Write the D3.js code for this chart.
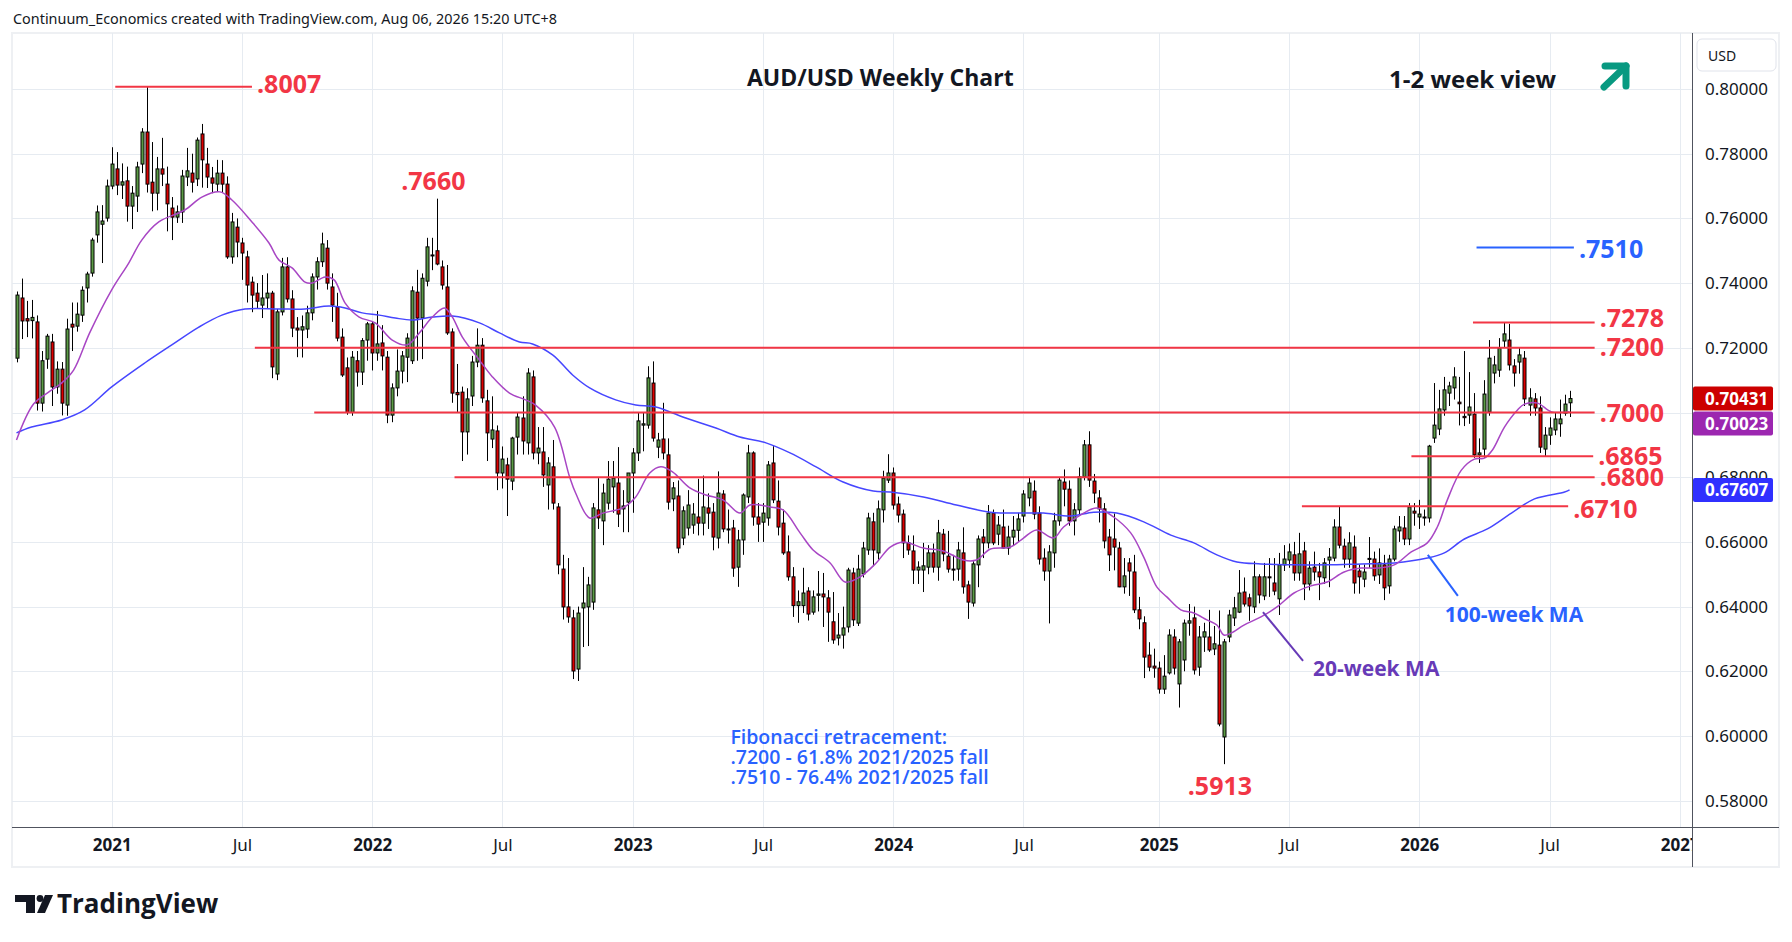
<!DOCTYPE html>
<html lang="en">
<head>
<meta charset="UTF-8">
<title>AUD/USD Weekly Chart</title>
<script src="https://d3js.org/d3.v7.min.js"></script>
<style>
  body { margin: 0; background: #fff; }
  svg { display: block; }
  text { font-family: "Open Sans", "Noto Sans", sans-serif; }
  .ui { font-family: "Noto Sans", "Open Sans", sans-serif; }
</style>
</head>
<body>
<div id="chart"></div>
<script>
// weekly bars, first bar = week of 2020-08-24
const firstWeek = "2020-08-24";

const opens = [
  .7168,.7354,.7290,.7284,.7280,.7029,.7165,.7218,.7079,.7134,
  .7023,.7273,.7267,.7301,.7385,.7431,.7549,.7582,.7601,.7700,
  .7753,.7703,.7716,.7638,.7669,.7768,.7867,.7712,.7678,.7753,
  .7706,.7632,.7604,.7620,.7728,.7740,.7722,.7861,.7768,.7725,
  .7706,.7740,.7706,.7481,.7573,.7524,.7481,.7403,.7369,.7332,
  .7354,.7369,.7119,.7311,.7450,.7351,.7261,.7255,.7258,.7308,
  .7419,.7466,.7508,.7388,.7326,.7233,.7138,.7000,.7160,.7125,
  .7224,.7274,.7184,.7215,.7171,.6992,.7076,.7128,.7171,.7160,
  .7372,.7292,.7406,.7487,.7500,.7450,.7388,.7249,.7062,.7063,
  .6940,.7051,.7156,.7208,.7036,.6918,.6943,.6813,.6838,.6788,
  .6924,.6983,.6906,.7110,.6875,.6878,.6776,.6832,.6708,.6516,
  .6399,.6365,.6207,.6396,.6399,.6414,.6699,.6665,.6720,.6770,
  .6782,.6702,.6723,.6813,.6875,.6961,.6961,.7091,.6893,.6918,
  .6869,.6733,.6742,.6612,.6643,.6652,.6677,.6658,.6705,.6692,
  .6612,.6748,.6640,.6643,.6522,.6606,.6739,.6875,.6677,.6661,
  .6674,.6844,.6726,.6658,.6569,.6492,.6403,.6403,.6448,.6383,
  .6435,.6439,.6427,.6353,.6303,.6312,.6337,.6504,.6349,.6501,
  .6575,.6662,.6566,.6699,.6791,.6813,.6717,.6686,.6597,.6572,
  .6513,.6513,.6522,.6566,.6522,.6624,.6556,.6516,.6516,.6566,
  .6467,.6411,.6529,.6615,.6597,.6689,.6624,.6646,.6581,.6615,
  .6636,.6680,.6736,.6757,.6689,.6550,.6510,.6566,.6665,.6785,
  .6763,.6665,.6699,.6801,.6900,.6788,.6736,.6702,.6615,.6609,
  .6581,.6461,.6535,.6507,.6390,.6350,.6250,.6216,.6210,.6145,
  .6195,.6306,.6161,.6235,.6349,.6365,.6213,.6306,.6306,.6269,
  .6281,.5997,.6306,.6365,.6383,.6445,.6427,.6399,.6492,.6433,
  .6492,.6473,.6424,.6529,.6544,.6560,.6504,.6572,.6470,.6522,
  .6507,.6489,.6544,.6550,.6646,.6587,.6547,.6584,.6510,.6485,
  .6549,.6547,.6498,.6529,.6464,.6547,.6634,.6643,.6609,.6695,
  .6677,.6677,.6674,.6921,.6949,.7008,.7060,.7076,.7032,.6988,
  .6992,.6995,.6869,.6887,.7002,.7122,.7131,.7221,.7224,.7144,
  .7156,.7168,.7023,.7042,.7014,.6887,.6930,.6946,.6965,.6998,
  .7030
];

const highs = [
  .7374,.7414,.7345,.7348,.7300,.7190,.7243,.7243,.7158,.7156,
  .7290,.7340,.7340,.7390,.7435,.7540,.7640,.7641,.7720,.7820,
  .7805,.7770,.7760,.7700,.7775,.7879,.8007,.7836,.7790,.7849,
  .7760,.7666,.7640,.7750,.7818,.7800,.7850,.7892,.7818,.7759,
  .7781,.7780,.7730,.7617,.7600,.7540,.7500,.7420,.7400,.7425,
  .7430,.7376,.7320,.7478,.7480,.7378,.7295,.7300,.7330,.7430,
  .7480,.7556,.7533,.7430,.7370,.7260,.7170,.7190,.7190,.7230,
  .7280,.7280,.7314,.7270,.7190,.7090,.7195,.7190,.7245,.7390,
  .7441,.7430,.7540,.7540,.7661,.7470,.7456,.7260,.7150,.7080,
  .7075,.7175,.7260,.7230,.7070,.7050,.6960,.6895,.6860,.6925,
  .7000,.7050,.7137,.7130,.6955,.6955,.6862,.6915,.6720,.6560,
  .6550,.6390,.6400,.6522,.6492,.6720,.6797,.6780,.6850,.6850,
  .6893,.6760,.6810,.6890,.7000,.7000,.7143,.7158,.6937,.7030,
  .6920,.6785,.6790,.6710,.6760,.6720,.6795,.6805,.6750,.6720,
  .6818,.6760,.6700,.6668,.6637,.6750,.6900,.6880,.6720,.6720,
  .6850,.6896,.6790,.6700,.6620,.6522,.6450,.6520,.6460,.6450,
  .6510,.6504,.6451,.6445,.6380,.6400,.6520,.6520,.6560,.6600,
  .6690,.6690,.6728,.6820,.6871,.6830,.6740,.6700,.6620,.6620,
  .6540,.6597,.6590,.6595,.6668,.6640,.6634,.6560,.6600,.6645,
  .6480,.6540,.6620,.6640,.6714,.6700,.6680,.6700,.6650,.6680,
  .6690,.6760,.6799,.6790,.6710,.6580,.6590,.6690,.6800,.6824,
  .6790,.6720,.6830,.6915,.6942,.6810,.6760,.6720,.6640,.6688,
  .6600,.6550,.6550,.6560,.6430,.6370,.6290,.6270,.6230,.6250,
  .6330,.6330,.6300,.6360,.6408,.6400,.6340,.6350,.6390,.6340,
  .6388,.6300,.6390,.6430,.6513,.6490,.6440,.6540,.6500,.6535,
  .6550,.6550,.6566,.6590,.6595,.6600,.6628,.6600,.6540,.6570,
  .6535,.6550,.6581,.6670,.6708,.6610,.6630,.6620,.6530,.6530,
  .6615,.6570,.6580,.6560,.6560,.6650,.6680,.6680,.6720,.6720,
  .6730,.6700,.6900,.7091,.7070,.7110,.7095,.7140,.7110,.7190,
  .7125,.7060,.6920,.7100,.7224,.7175,.7230,.7278,.7274,.7165,
  .7200,.7190,.7075,.7060,.7050,.6955,.6985,.7000,.7040,.7055,
  .7067
];

const lows = [
  .7155,.7227,.7233,.7229,.7006,.7003,.7135,.7020,.7058,.6991,
  .6990,.7190,.7250,.7280,.7340,.7420,.7525,.7462,.7590,.7690,
  .7672,.7660,.7590,.7567,.7620,.7740,.7680,.7622,.7625,.7700,
  .7560,.7533,.7586,.7586,.7700,.7680,.7700,.7695,.7694,.7678,
  .7682,.7680,.7475,.7460,.7480,.7410,.7340,.7310,.7320,.7292,
  .7320,.7106,.7100,.7300,.7340,.7233,.7171,.7170,.7230,.7285,
  .7380,.7450,.7380,.7280,.7220,.7110,.6993,.6990,.7080,.7085,
  .7160,.7130,.7160,.7130,.6967,.6970,.7050,.7090,.7094,.7150,
  .7160,.7165,.7390,.7440,.7455,.7380,.7240,.7030,.7000,.6850,
  .6870,.7020,.7140,.7030,.6850,.6890,.6760,.6765,.6680,.6760,
  .6870,.6870,.6870,.6855,.6840,.6770,.6700,.6700,.6500,.6360,
  .6350,.6176,.6170,.6275,.6278,.6390,.6640,.6590,.6700,.6690,
  .6646,.6630,.6630,.6690,.6850,.6880,.6950,.6910,.6859,.6855,
  .6700,.6695,.6565,.6590,.6620,.6625,.6620,.6620,.6640,.6574,
  .6580,.6630,.6595,.6492,.6461,.6560,.6720,.6650,.6600,.6600,
  .6650,.6720,.6620,.6560,.6480,.6368,.6350,.6380,.6357,.6375,
  .6385,.6337,.6291,.6285,.6280,.6270,.6320,.6340,.6340,.6490,
  .6560,.6525,.6545,.6660,.6782,.6700,.6660,.6550,.6560,.6470,
  .6470,.6445,.6500,.6505,.6480,.6540,.6505,.6480,.6480,.6440,
  .6362,.6400,.6460,.6550,.6580,.6590,.6590,.6580,.6560,.6590,
  .6600,.6660,.6710,.6670,.6530,.6480,.6348,.6520,.6650,.6710,
  .6650,.6620,.6680,.6790,.6770,.6720,.6660,.6580,.6510,.6512,
  .6460,.6440,.6433,.6380,.6330,.6179,.6200,.6180,.6131,.6130,
  .6190,.6190,.6088,.6200,.6310,.6190,.6186,.6260,.6260,.6250,
  .6030,.5913,.6290,.6340,.6380,.6400,.6356,.6380,.6410,.6420,
  .6430,.6435,.6374,.6510,.6520,.6480,.6480,.6420,.6450,.6480,
  .6420,.6470,.6460,.6540,.6580,.6520,.6520,.6440,.6440,.6460,
  .6520,.6480,.6470,.6420,.6440,.6540,.6600,.6590,.6590,.6650,
  .6640,.6650,.6660,.6906,.6930,.6990,.7020,.7040,.6960,.6958,
  .6965,.6860,.6844,.6860,.6990,.7090,.7110,.7200,.7130,.7080,
  .7120,.7020,.6990,.6990,.6875,.6865,.6900,.6930,.6925,.6990,
  .6986
];

const closes = [
  .7363,.7283,.7283,.7294,.7029,.7160,.7236,.7079,.7134,.7029,
  .7258,.7264,.7304,.7378,.7428,.7533,.7620,.7592,.7700,.7768,
  .7703,.7713,.7638,.7678,.7759,.7867,.7706,.7678,.7753,.7737,
  .7645,.7604,.7620,.7731,.7747,.7712,.7842,.7781,.7728,.7709,
  .7740,.7706,.7481,.7589,.7527,.7493,.7394,.7363,.7344,.7354,
  .7369,.7141,.7311,.7450,.7351,.7261,.7255,.7265,.7308,.7419,
  .7466,.7521,.7400,.7332,.7230,.7116,.7000,.7171,.7125,.7222,
  .7274,.7184,.7212,.7175,.6992,.7076,.7128,.7175,.7230,.7376,
  .7292,.7415,.7512,.7484,.7459,.7394,.7246,.7060,.7055,.6940,
  .7042,.7156,.7208,.7045,.6937,.6946,.6813,.6856,.6794,.6921,
  .6986,.6912,.7122,.6875,.6890,.6807,.6844,.6720,.6529,.6399,
  .6368,.6201,.6380,.6411,.6467,.6705,.6674,.6751,.6794,.6797,
  .6686,.6711,.6813,.6875,.6974,.6965,.7107,.6921,.6915,.6875,
  .6723,.6767,.6581,.6696,.6714,.6686,.6658,.6708,.6689,.6615,
  .6751,.6640,.6637,.6519,.6606,.6745,.6875,.6677,.6655,.6689,
  .6838,.6730,.6646,.6566,.6492,.6403,.6415,.6442,.6377,.6430,
  .6439,.6430,.6383,.6297,.6312,.6334,.6513,.6359,.6516,.6581,
  .6674,.6575,.6702,.6797,.6813,.6714,.6683,.6597,.6575,.6513,
  .6522,.6526,.6566,.6522,.6628,.6563,.6516,.6513,.6575,.6461,
  .6414,.6532,.6609,.6597,.6689,.6597,.6652,.6581,.6615,.6636,
  .6671,.6748,.6782,.6686,.6547,.6510,.6569,.6665,.6791,.6763,
  .6665,.6699,.6801,.6900,.6791,.6751,.6702,.6603,.6560,.6584,
  .6461,.6495,.6510,.6390,.6362,.6244,.6213,.6210,.6145,.6185,
  .6312,.6210,.6291,.6349,.6356,.6204,.6306,.6322,.6266,.6285,
  .6037,.6291,.6374,.6396,.6442,.6408,.6402,.6492,.6436,.6492,
  .6490,.6448,.6529,.6547,.6569,.6504,.6563,.6470,.6519,.6507,
  .6492,.6535,.6553,.6646,.6590,.6547,.6597,.6473,.6492,.6507,
  .6546,.6495,.6535,.6458,.6547,.6640,.6646,.6609,.6708,.6689,
  .6686,.6674,.6896,.6961,.7011,.7070,.7082,.7110,.7027,.6984,
  .7017,.6869,.6875,.7057,.7168,.7147,.7199,.7243,.7147,.7122,
  .7178,.7042,.7045,.7014,.6893,.6930,.6952,.6980,.6980,.7026,
  .70431
];

// moving averages (week index from first bar, value)
const ma20Weeks = [0,3.4,6.4,9,11.4,14.6,19,22.4,25,28.4,33.6,37,40.6,43,47,50.4,52.4,55,57.6,59,
  61.6,63.4,65.6,68.4,71.6,75,78,80.4,83,85.4,87,89,92.4,95,98.4,101.6,103.6,107.4,110.4,111.6,
  114.4,117,121,123.6,126.4,128.6,131,134.4,137.6,141,144.4,146.4,150.4,153,156.4,159,162.4,165.4,168.4,171.6,
  174.4,177,181,185,189,191.6,194.4,198.4,201,203.6,207,209,213,215.6,219,222.4,225,227.6,229.6,232.4,
  235,237.6,239.6,241,242.4,245,248.4,251.6,255,258.4,261.6,265,268.4,271.6,275,278.4,281.6,283.6,285.6,288.4,
  291,293,294.6,297,299.6,301,303.6,306.4,310];
const ma20Values = [.6915,.7026,.7063,.7091,.7131,.7246,.7379,.7462,.7533,.7589,.7626,.7666,.7682,.7657,.7589,.7524,.7471,.7447,.7403,.7400,
  .7419,.7410,.7338,.7295,.7277,.7224,.7209,.7246,.7295,.7323,.7295,.7233,.7162,.7110,.7060,.7039,.7023,.6955,.6801,.6751,
  .6674,.6689,.6705,.6739,.6813,.6832,.6816,.6767,.6745,.6730,.6689,.6714,.6708,.6699,.6628,.6575,.6535,.6476,.6492,.6535,
  .6584,.6600,.6581,.6572,.6544,.6544,.6578,.6584,.6612,.6637,.6612,.6646,.6689,.6705,.6677,.6628,.6553,.6461,.6430,.6390,
  .6380,.6359,.6343,.6312,.6318,.6343,.6368,.6399,.6442,.6464,.6476,.6507,.6519,.6519,.6529,.6569,.6597,.6646,.6730,.6822,
  .6856,.6859,.6884,.6955,.7008,.7026,.7029,.7002,.70023];

const ma100Weeks = [0,3,9,13.6,19,25.6,31,36.4,41,45.6,52.4,57.6,62.4,65.6,69,72.4,75.6,79,83,87,
  92.4,96.4,100.4,103,107,111,114.4,119.6,123.6,127.6,133,139.6,144.4,149.6,154.4,159.6,165,171,174.4,181,
  187.6,194.4,201,205,210.4,215,219.6,225,230.4,235,239.6,243.6,248.4,255,261.6,268.4,275,281.6,285,289,
  293.6,298.4,303,309,310];
const ma100Values = [.6937,.6955,.6977,.7008,.7079,.7153,.7209,.7264,.7301,.7320,.7320,.7320,.7329,.7323,.7308,.7301,.7292,.7286,.7295,.7298,
  .7277,.7246,.7218,.7212,.7178,.7116,.7076,.7039,.7023,.7017,.6986,.6952,.6924,.6906,.6875,.6832,.6785,.6757,.6754,.6739,
  .6714,.6692,.6689,.6689,.6680,.6692,.6689,.6662,.6621,.6597,.6560,.6538,.6532,.6529,.6529,.6532,.6535,.6550,.6566,.6609,
  .6640,.6689,.6733,.6754,.67607];

// horizontal levels
const levelPrices = [0.8007, 0.7510, 0.7278, 0.7200, 0.7000, 0.6865, 0.6800, 0.6710];
const levelLabels = [".8007", ".7510", ".7278", ".7200", ".7000", ".6865", ".6800", ".6710"];
const levelFrom = ["2021-01-09", "2026-03-26", "2026-03-21", "2021-07-23", "2021-10-14", "2025-12-25", "2022-04-28", "2025-07-25"];
const levelTo = ["2021-07-19", "2026-08-09", "2026-09-07", "2026-09-07", "2026-09-07", "2026-09-05", "2026-09-07", "2026-08-01"];
const levelColors = ["#f23645", "#2962ff", "#f23645", "#f23645", "#f23645", "#f23645", "#f23645", "#f23645"];

// axis ticks
const priceTicks = [0.58, 0.60, 0.62, 0.64, 0.66, 0.68, 0.70, 0.72, 0.74, 0.76, 0.78, 0.80];
const timeTicks = ["2021-01-04", "2021-07-05", "2022-01-03", "2022-07-04", "2023-01-02", "2023-07-03",
  "2024-01-01", "2024-07-01", "2025-01-06", "2025-07-07", "2026-01-05", "2026-07-06", "2027-01-04"];
const timeTickLabels = ["2021", "Jul", "2022", "Jul", "2023", "Jul", "2024", "Jul", "2025", "Jul", "2026", "Jul", "2027"];

const fibLines = ["Fibonacci retracement:", ".7200 - 61.8% 2021/2025 fall", ".7510 - 76.4% 2021/2025 fall"];

const W = 1792, H = 942;
const plot = { left: 12, right: 1692, top: 33, bottom: 827 };
const red = "#f23645", blue = "#2962ff";

const parseDay = d3.timeParse("%Y-%m-%d");
const start = parseDay(firstWeek);
const weekDate = i => d3.timeHour.offset(start, Math.round(i * 7 * 24));

const x = d3.scaleTime()
  .domain([start, parseDay("2027-01-04")])
  .range([16.5, 1679.8]);
const y = d3.scaleLinear()
  .domain([0.58, 0.80])
  .range([800.7, 89]);

const svg = d3.select("#chart").append("svg")
  .attr("width", W).attr("height", H);

svg.append("rect").attr("width", W).attr("height", H).attr("fill", "#fff");

const defs = svg.append("defs");
defs.append("clipPath").attr("id", "clipPlot").append("rect")
  .attr("x", plot.left).attr("y", plot.top)
  .attr("width", plot.right - plot.left).attr("height", plot.bottom - plot.top);
defs.append("clipPath").attr("id", "clipTime").append("rect")
  .attr("x", plot.left).attr("y", plot.bottom)
  .attr("width", plot.right - plot.left).attr("height", 40);

// header
svg.append("text").attr("class", "ui")
  .attr("x", 13).attr("y", 24)
  .attr("font-size", 14.4).attr("fill", "#131722")
  .text("Continuum_Economics created with TradingView.com, Aug 06, 2026 15:20 UTC+8");

// frame
svg.append("rect")
  .attr("x", 12).attr("y", 33).attr("width", 1767).attr("height", 834)
  .attr("fill", "none").attr("stroke", "#eef0f3").attr("stroke-width", 2);

// grid
const grid = svg.append("g").attr("clip-path", "url(#clipPlot)");
grid.selectAll(".hg").data(priceTicks).enter().append("line")
  .attr("x1", plot.left).attr("x2", plot.right)
  .attr("y1", d => Math.round(y(d)) + 0.5).attr("y2", d => Math.round(y(d)) + 0.5)
  .attr("stroke", "#e6ebf1");
grid.selectAll(".vg").data(timeTicks).enter().append("line")
  .attr("x1", d => Math.round(x(parseDay(d))) + 0.5).attr("x2", d => Math.round(x(parseDay(d))) + 0.5)
  .attr("y1", plot.top).attr("y2", plot.bottom)
  .attr("stroke", "#e6ebf1");

// candles
const bars = opens.map((o, i) => ({ date: weekDate(i), o, h: highs[i], l: lows[i], c: closes[i] }));
const gBars = svg.append("g").attr("clip-path", "url(#clipPlot)");
const cx = d => Math.round(x(d.date)) + 0.5;

gBars.selectAll(".wick").data(bars).enter().append("line")
  .attr("x1", cx).attr("x2", cx)
  .attr("y1", d => y(d.h)).attr("y2", d => y(d.l))
  .attr("stroke", "#000").attr("stroke-width", 1);

gBars.selectAll(".body").data(bars).enter().append("rect")
  .attr("x", d => cx(d) - 1.5)
  .attr("width", 3)
  .attr("y", d => y(Math.max(d.o, d.c)))
  .attr("height", d => Math.max(1, Math.abs(y(d.o) - y(d.c))))
  .attr("fill", d => d.c >= d.o ? "#5b9b45" : "#dd0000")
  .attr("stroke", "#000").attr("stroke-width", 1);

// moving averages
const maLine = d3.line()
  .x(d => x(weekDate(d[0])))
  .y(d => y(d[1]))
  .curve(d3.curveCatmullRom);

const gMa = svg.append("g").attr("clip-path", "url(#clipPlot)");
gMa.append("path")
  .datum(ma100Weeks.map((w, i) => [w, ma100Values[i]]))
  .attr("d", maLine).attr("fill", "none")
  .attr("stroke", "#4646ff").attr("stroke-width", 1.5);
gMa.append("path")
  .datum(ma20Weeks.map((w, i) => [w, ma20Values[i]]))
  .attr("d", maLine).attr("fill", "none")
  .attr("stroke", "#a846c4").attr("stroke-width", 1.5);

// levels
const labelShift = [-4, 0, -6, -2, -1, -1, -1, 2];
const levels = levelPrices.map((p, i) => ({
  p, label: levelLabels[i], from: parseDay(levelFrom[i]), to: parseDay(levelTo[i]), color: levelColors[i], dy: labelShift[i]
}));
const gLev = svg.append("g");
gLev.selectAll("line").data(levels).enter().append("line")
  .attr("x1", d => x(d.from)).attr("x2", d => x(d.to))
  .attr("y1", d => y(d.p)).attr("y2", d => y(d.p))
  .attr("stroke", d => d.color).attr("stroke-width", 2);
gLev.selectAll("text").data(levels).enter().append("text")
  .attr("x", d => x(d.to) + 5).attr("y", d => y(d.p) + d.dy)
  .attr("dominant-baseline", "central")
  .attr("font-size", 25).attr("font-weight", "bold")
  .attr("fill", d => d.color)
  .text(d => d.label);

// swing high / low labels
const swingLabels = [
  { week: 84, price: 0.7660, dy: -19, text: ".7660" },
  { week: 241, price: 0.5913, dy: 21, text: ".5913" }
];
svg.selectAll(".swing").data(swingLabels).enter().append("text")
  .attr("x", d => x(weekDate(d.week)) - 4).attr("y", d => y(d.price) + d.dy)
  .attr("text-anchor", "middle").attr("dominant-baseline", "central")
  .attr("font-size", 25).attr("font-weight", "bold").attr("fill", red)
  .text(d => d.text);

// MA call-outs
const callouts = [
  { from: [281.7, 0.6560], to: [287.7, 0.6433], textAt: [285.1, 0.6377], text: "100-week MA", color: "#2962ff" },
  { from: [248.8, 0.6383], to: [256.8, 0.6232], textAt: [258.8, 0.6210], text: "20-week MA", color: "#673ab7" }
];
callouts.forEach(c => {
  svg.append("line")
    .attr("x1", x(weekDate(c.from[0]))).attr("y1", y(c.from[1]))
    .attr("x2", x(weekDate(c.to[0]))).attr("y2", y(c.to[1]))
    .attr("stroke", c.color).attr("stroke-width", 2);
  svg.append("text")
    .attr("x", x(weekDate(c.textAt[0]))).attr("y", y(c.textAt[1]))
    .attr("dominant-baseline", "central")
    .attr("font-size", 21).attr("font-weight", "bold").attr("fill", c.color)
    .text(c.text);
});

// fibonacci note
svg.append("g").selectAll("text").data(fibLines).enter().append("text")
  .attr("x", x(weekDate(142.5)))
  .attr("y", (d, i) => y(0.5997) + i * 20)
  .attr("dominant-baseline", "central")
  .attr("font-size", 19.5).attr("font-weight", 600).attr("fill", blue)
  .text(d => d);

// titles
svg.append("text").attr("x", 747).attr("y", 77)
  .attr("dominant-baseline", "central")
  .attr("font-size", 23).attr("font-weight", "bold").attr("fill", "#131722")
  .text("AUD/USD Weekly Chart");
svg.append("text").attr("x", 1389).attr("y", 78)
  .attr("dominant-baseline", "central")
  .attr("font-size", 24).attr("font-weight", "bold").attr("fill", "#131722")
  .text("1-2 week view");

// up arrow
const arrow = svg.append("g").attr("stroke", "#089981").attr("stroke-width", 7)
  .attr("stroke-linecap", "round").attr("stroke-linejoin", "round").attr("fill", "none");
arrow.append("path").attr("d", "M1604,87 L1626,66");
arrow.append("path").attr("d", "M1605,66 L1626,66 L1626,86");

// time axis (outer group carries the clip, inner group the translation)
const xAxis = d3.axisBottom(x)
  .tickValues(timeTicks.map(parseDay))
  .tickFormat((d, i) => timeTickLabels[i])
  .tickSize(0).tickPadding(12);
const gx = svg.append("g")
  .attr("clip-path", "url(#clipTime)")
  .append("g")
  .attr("transform", `translate(0,${plot.bottom})`)
  .call(xAxis);
gx.select(".domain").remove();
gx.selectAll("text")
  .attr("class", "ui")
  .attr("font-size", 17)
  .attr("font-weight", (d, i) => /^\d{4}$/.test(timeTickLabels[i]) ? "bold" : "normal")
  .attr("fill", "#131722");

// price tags (last close, MA values), stacked so they do not overlap
const tags = [
  { v: closes[closes.length - 1], color: "#cc0000" },
  { v: ma20Values[ma20Values.length - 1], color: "#9c27b0" },
  { v: ma100Values[ma100Values.length - 1], color: "#3030ff" }
].map(t => ({ ...t, cy: y(t.v) })).sort((a, b) => a.cy - b.cy);
for (let i = 1; i < tags.length; i++) {
  if (tags[i].cy < tags[i - 1].cy + 25) tags[i].cy = tags[i - 1].cy + 25;
}

// price axis: labels hidden behind a tag are dropped, as in the original
const shownTicks = priceTicks.filter(v => !tags.some(t => Math.abs(t.cy - y(v)) < 12.5));
const yAxis = d3.axisRight(y)
  .tickValues(shownTicks)
  .tickFormat(d3.format(".5f"))
  .tickSize(0).tickPadding(13);
const gy = svg.append("g")
  .attr("transform", `translate(${plot.right},0)`)
  .call(yAxis);
gy.select(".domain").remove();
gy.selectAll("text").attr("class", "ui").attr("font-size", 17).attr("fill", "#131722");

// axis borders
svg.append("line").attr("x1", plot.left).attr("x2", 1779)
  .attr("y1", plot.bottom + 0.5).attr("y2", plot.bottom + 0.5)
  .attr("stroke", "#50535e");
svg.append("line").attr("x1", plot.right + 0.5).attr("x2", plot.right + 0.5)
  .attr("y1", plot.top).attr("y2", 867)
  .attr("stroke", "#50535e");

// USD box
svg.append("rect").attr("x", 1697).attr("y", 39).attr("width", 79).attr("height", 32)
  .attr("rx", 5).attr("fill", "#fff").attr("stroke", "#e0e3eb");
svg.append("text").attr("class", "ui").attr("x", 1708).attr("y", 55)
  .attr("dominant-baseline", "central").attr("font-size", 14).attr("fill", "#131722")
  .text("USD");

const gTag = svg.append("g");
gTag.selectAll("rect").data(tags).enter().append("rect")
  .attr("x", plot.right + 1).attr("y", d => d.cy - 12)
  .attr("width", 80).attr("height", 24).attr("rx", 2)
  .attr("fill", d => d.color);
gTag.selectAll("text").data(tags).enter().append("text")
  .attr("class", "ui")
  .attr("x", 1705).attr("y", d => d.cy)
  .attr("dominant-baseline", "central")
  .attr("font-size", 17).attr("font-weight", "bold").attr("fill", "#fff")
  .text(d => d3.format(".5f")(d.v));

// TradingView logo
const logo = svg.append("g").attr("fill", "#131722");
logo.append("path").attr("d", "M15,895 H35 V913 H26 V902 H15 Z");
logo.append("circle").attr("cx", 40).attr("cy", 898.5).attr("r", 3.4);
logo.append("path").attr("d", "M45,895 H53 L45,913 H37 Z");
logo.append("text").attr("x", 57).attr("y", 913)
  .attr("font-size", 26).attr("font-weight", "bold")
  .attr("font-family", "Inter, 'Open Sans', sans-serif")
  .text("TradingView");
</script>
</body>
</html>
